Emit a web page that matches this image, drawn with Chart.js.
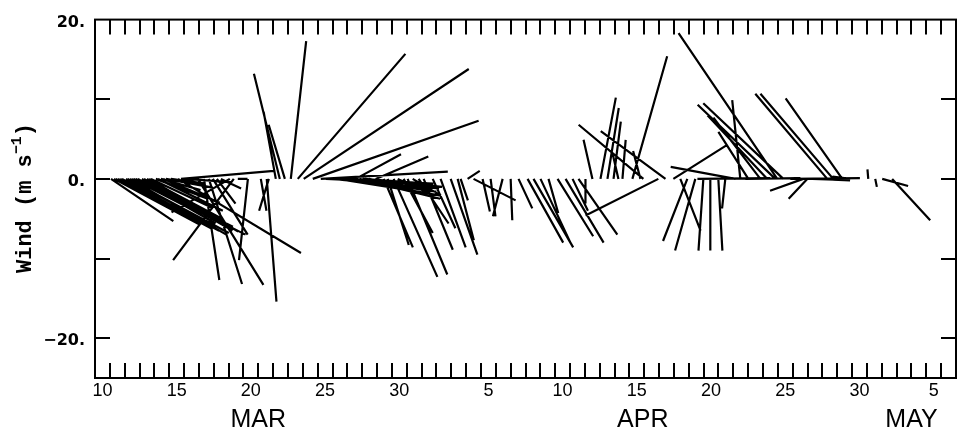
<!DOCTYPE html>
<html>
<head>
  <title>Wind stick plot</title>
  <script src="https://cdn.jsdelivr.net/npm/chart.js@4.4.1/dist/chart.umd.min.js"></script>
  <style>
    body { margin: 0; background: #fff; }
    #wind { display: block; }
  </style>
</head>
<body>
  <canvas id="wind" width="964" height="432"></canvas>
  <script>
    // x axis runs in days counted from 1 March (Apr 1 = 32, May 1 = 62)
    const X_MIN = 10;
    const X_MAX = 68;
    const Y_MIN = -25;
    const Y_MAX = 20;

    // day labels sit at noon of the labelled day
    const DAY_TICK_POS = [10.5, 15.5, 20.5, 25.5, 30.5, 36.5, 41.5, 46.5, 51.5, 56.5, 61.5, 66.5];
    const DAY_TICK_LABELS = ['10', '15', '20', '25', '30', '5', '10', '15', '20', '25', '30', '5'];
    const MONTH_POS = [21.0, 46.9, 65.0];
    const MONTH_LABELS = ['MAR', 'APR', 'MAY'];
    const Y_LABEL_VALUES = [-20, 0, 20];
    const Y_LABELS = ['\u221220.', '0.', '20.'];
    const Y_MINOR = [-20, -10, 0, 10];

    // observation time (day) and wind components (m/s)
    const STICK_DAY = [
      11.08, 11.28, 11.40, 11.55, 11.70, 11.82, 12.09, 12.20, 12.36, 12.50,
      12.62, 12.75, 12.89, 13.16, 13.30, 13.50, 13.65, 13.77, 14.10, 14.25,
      14.44, 14.60, 14.78, 15.11, 15.59, 15.79, 16.12, 16.93, 17.34, 17.67,
      17.94, 18.21, 18.48, 19.08, 19.35, 19.62, 20.30, 21.17, 21.57, 21.71,
      22.18, 22.45, 22.79, 23.19, 23.66, 24.06, 24.67, 25.21, 25.55, 25.88,
      26.35, 26.76, 27.00, 27.23, 27.56, 27.80, 28.03, 28.20, 28.44, 28.91,
      29.45, 29.72, 30.12, 30.39, 30.79, 31.06, 31.40, 31.80, 32.14, 32.75,
      33.28, 33.96, 34.43, 34.63, 35.10, 35.50, 36.11, 36.65, 37.46, 38.00,
      38.53, 39.14, 39.54, 40.01, 40.55, 41.16, 41.70, 42.17, 42.57, 43.04,
      43.51, 44.05, 44.52, 44.93, 45.26, 45.53, 46.20, 46.74, 46.94, 47.95,
      48.43, 48.96, 49.43, 49.90, 50.44, 50.58, 50.98, 51.45, 51.99, 52.46,
      53.14, 53.47, 53.81, 54.01, 54.82, 55.29, 55.83, 55.96, 56.37, 56.84,
      57.71, 57.98, 58.32, 58.52, 59.33, 59.73, 60.34, 60.88, 62.09, 62.56,
      63.03, 63.70
    ];
    const WIND_U = [
      7.7, 10.7, 8.0, 11.5, 10.0, 12.0, 9.9, 12.5, 11.9, 8.5,
      13.8, 12.0, 9.6, 11.2, 10.5, 9.1, 11.0, 7.7, 6.4, 8.0,
      4.9, 7.0, 5.8, 4.3, 15.2, 11.5, 5.6, 8.1, 1.9, 4.1,
      4.3, 2.3, 2.5, -7.2, -7.5, 1.2, -1.1, 0.7, 1.2, -1.2,
      -1.5, -3.2, -2.0, 1.9, 13.3, 20.4, 20.5, 15.7, 13.3, 13.4,
      11.7, 12.0, 11.0, 3.7, 5.6, 10.0, 8.1, 9.5, 7.7, 6.5,
      3.6, 2.6, 5.4, 4.1, 3.6, 4.9, 3.5, 3.7, 3.6, 2.8,
      3.1, 3.3, 2.0, 0.9, 1.5, 5.2, 0.9, 0.6, -1.2, 0.2,
      1.7, 4.4, 4.9, 3.7, 1.2, 4.4, 4.7, 1.9, 4.8, 0.0,
      -1.1, 1.9, 1.4, 0.9, -0.7, 0.4, 4.3, -0.9, -8.0, -9.0,
      -8.0, 6.7, 2.5, -3.0, -2.5, 9.0, -0.6, 0.0, 0.5, -0.4,
      -8.0, -1.0, 6.8, -3.7, -5.8, -7.4, -9.6, -12.2, -9.9, 8.6,
      -4.1, -2.3, 2.8, 4.3, -8.9, -9.0, -7.0, -2.2, -0.1, 0.2,
      3.2, 4.7
    ];
    const WIND_V = [
      -5.3, -5.8, -4.0, -6.2, -5.5, -6.5, -5.3, -6.8, -7.0, -4.4,
      -7.0, -6.0, -5.6, -6.5, -5.8, -4.9, -6.6, -3.7, -2.5, -4.0,
      -1.4, -3.0, -1.1, -0.6, -9.3, 1.0, -0.4, -13.3, -12.7, -13.2,
      -7.0, -3.1, -1.2, -4.2, -10.2, 0.0, -10.2, -4.0, -15.4, -4.0,
      8.4, 13.2, 6.8, 17.3, 15.7, 13.8, 7.3, 0.9, -0.6, -1.2,
      -1.9, -2.1, -1.6, -0.4, 3.1, -2.5, -0.6, -1.0, -1.5, 2.8,
      -8.6, -8.3, -12.3, -1.9, -6.8, -12.0, -2.1, -5.6, -8.9, -6.2,
      -8.6, -9.5, -7.7, -2.7, 1.0, -2.7, -4.1, -4.7, -4.7, -5.2,
      -3.7, -8.0, -8.6, -8.0, -4.3, -7.2, -8.0, -4.0, -7.0, -3.1,
      4.9, 10.2, 8.9, 7.2, 3.1, 4.9, 15.4, 3.5, 6.8, -4.6,
      6.0, 4.3, -6.5, -7.8, -9.0, 0.1, -9.0, -9.0, -9.0, -3.7,
      1.5, 9.9, 0.1, 5.9, 7.7, 8.0, 9.3, 18.3, 9.5, 0.1,
      -1.5, -2.5, -0.1, -0.2, 10.7, 10.7, 10.1, 0.3, 1.2, -1.0,
      -0.9, -5.2
    ];

    // days of x axis per m/s, so that a stick keeps its true direction on screen
    const STICK_SCALE = 0.545;

    // each stick: base on the zero line, tip at (u, v); null breaks the line
    const stickPoints = [];
    STICK_DAY.forEach((d, i) => {
      stickPoints.push({ x: d, y: 0 });
      stickPoints.push({ x: d + WIND_U[i] * STICK_SCALE, y: WIND_V[i] });
      stickPoints.push({ x: d, y: null });
    });

    // frame with inward ticks, month names and the rotated axis title
    const framePlugin = {
      id: 'framePlugin',
      afterDatasetsDraw(chart) {
        const { ctx, chartArea: a, scales: { x, y } } = chart;
        ctx.save();
        ctx.strokeStyle = '#000';
        ctx.lineWidth = 2;
        ctx.strokeRect(a.left, a.top, a.right - a.left, a.bottom - a.top);
        ctx.beginPath();
        for (let d = X_MIN + 1; d < X_MAX; d++) {
          const px = Math.round(x.getPixelForValue(d));
          ctx.moveTo(px, a.top); ctx.lineTo(px, a.top + 15);
          ctx.moveTo(px, a.bottom); ctx.lineTo(px, a.bottom - 15);
        }
        Y_MINOR.forEach(v => {
          const py = Math.round(y.getPixelForValue(v));
          ctx.moveTo(a.left, py); ctx.lineTo(a.left + 15, py);
          ctx.moveTo(a.right, py); ctx.lineTo(a.right - 15, py);
        });
        ctx.stroke();

        ctx.fillStyle = '#000';
        ctx.font = '25px "Liberation Sans"';
        ctx.textAlign = 'center';
        ctx.textBaseline = 'middle';
        MONTH_LABELS.forEach((m, i) => {
          ctx.fillText(m, x.getPixelForValue(MONTH_POS[i]), 420);
        });

        // "Wind (m s-1)" with a raised exponent
        ctx.translate(24, 198);
        ctx.rotate(-Math.PI / 2);
        const main = 'Wind (m s';
        const sup = '\u22121';
        const close = ')';
        const bigFont = 'bold 22px "Liberation Mono"';
        const smallFont = 'bold 15px "Liberation Mono"';
        ctx.font = bigFont;
        const w1 = ctx.measureText(main).width;
        const w3 = ctx.measureText(close).width;
        ctx.font = smallFont;
        const w2 = ctx.measureText(sup).width;
        let cx = -(w1 + w2 + w3) / 2;
        ctx.textAlign = 'left';
        ctx.textBaseline = 'alphabetic';
        ctx.font = bigFont;
        ctx.fillText(main, cx, 7);
        cx += w1;
        ctx.font = smallFont;
        ctx.fillText(sup, cx, -3);
        cx += w2;
        ctx.font = bigFont;
        ctx.fillText(close, cx, 7);
        ctx.restore();
      }
    };

    new Chart(document.getElementById('wind'), {
      type: 'scatter',
      data: {
        datasets: [{
          data: stickPoints,
          showLine: true,
          spanGaps: false,
          borderColor: '#000',
          borderWidth: 2.2,
          pointRadius: 0,
          pointHoverRadius: 0
        }]
      },
      options: {
        responsive: false,
        animation: false,
        devicePixelRatio: 1,
        layout: { padding: { top: 14, right: 8, left: 0, bottom: 0 } },
        plugins: { legend: { display: false }, tooltip: { enabled: false } },
        scales: {
          x: {
            type: 'linear',
            min: X_MIN,
            max: X_MAX,
            grid: { display: false, drawTicks: false },
            border: { display: false },
            afterBuildTicks: s => { s.ticks = DAY_TICK_POS.map(v => ({ value: v })); },
            afterFit: s => { s.height = 54; },
            ticks: {
              autoSkip: false,
              maxRotation: 0,
              padding: 2,
              color: '#000',
              font: { family: 'Liberation Sans', size: 18 },
              callback: (v, i) => DAY_TICK_LABELS[i]
            }
          },
          y: {
            type: 'linear',
            min: Y_MIN,
            max: Y_MAX,
            grid: { display: false, drawTicks: false },
            border: { display: false },
            afterBuildTicks: s => { s.ticks = Y_LABEL_VALUES.map(v => ({ value: v })); },
            afterFit: s => { s.width = 95; },
            ticks: {
              padding: 10,
              labelOffset: 3,
              color: '#000',
              font: { family: 'DejaVu Sans', weight: 'bold', size: 16 },
              callback: (v, i) => Y_LABELS[i]
            }
          }
        }
      },
      plugins: [framePlugin]
    });
  </script>
</body>
</html>
